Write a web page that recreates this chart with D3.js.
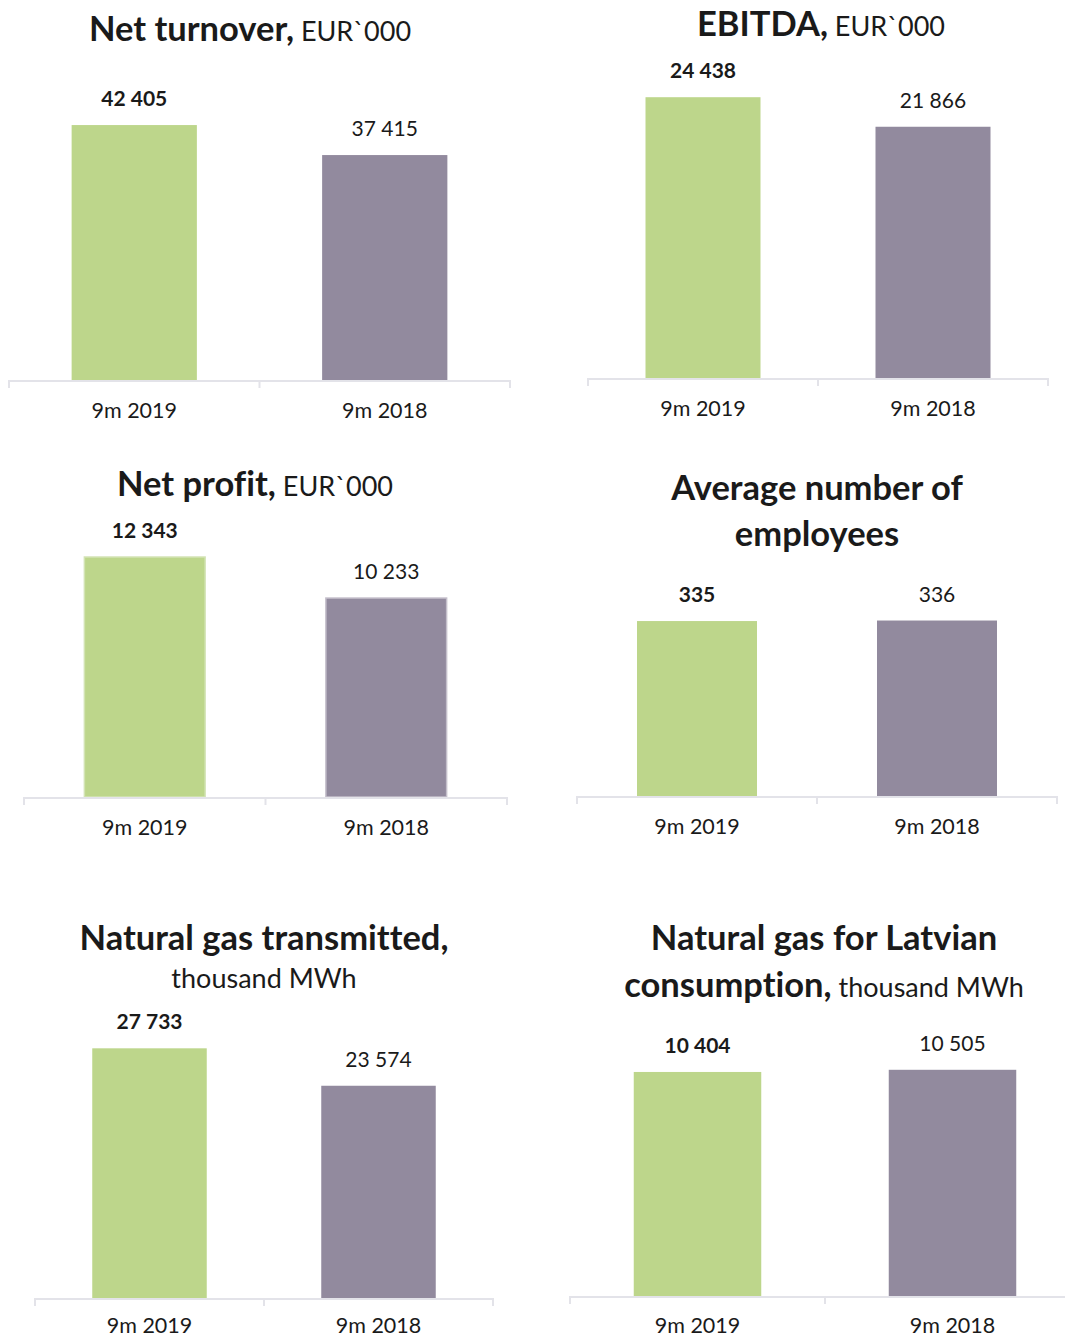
<!DOCTYPE html>
<html>
<head>
<meta charset="utf-8">
<script src="https://cdn.jsdelivr.net/npm/d3@7"></script>
<style>
  html, body { margin: 0; padding: 0; background: #fff; }
  svg { display: block; }
  text { font-family: Lato, "Open Sans", sans-serif; fill: #1a1a1a; font-variant-ligatures: none; font-feature-settings: "liga" 0; }
</style>
</head>
<body>
<svg id="chart" width="1065" height="1339"></svg>
<script>
// ---- data ----
const categories = ["9m 2019", "9m 2018"];
const netTurnover = [42405, 37415];
const ebitda = [24438, 21866];
const netProfit = [12343, 10233];
const employees = [335, 336];
const gasTransmitted = [27733, 23574];
const gasLatvian = [10404, 10505];
const valueLabels = {
  netTurnover: ["42 405", "37 415"],
  ebitda: ["24 438", "21 866"],
  netProfit: ["12 343", "10 233"],
  employees: ["335", "336"],
  gasTransmitted: ["27 733", "23 574"],
  gasLatvian: ["10 404", "10 505"]
};
// title lines: [bold part, regular part]
const titleNetTurnover = [["Net turnover,", " EUR`000"]];
const titleEbitda = [["EBITDA,", " EUR`000"]];
const titleNetProfit = [["Net profit,", " EUR`000"]];
const titleEmployees = [["Average number of", ""], ["employees", ""]];
const titleGasTransmitted = [["Natural gas transmitted,", ""], ["", "thousand MWh"]];
const titleGasLatvian = [["Natural gas for Latvian", ""], ["consumption,", " thousand MWh"]];

const colors = ["#BDD68B", "#928A9E"];
const strokeColors = ["#D3E3B4", "#C4BFCB"];

// ---- layout (positions only) ----
const panels = [
  { key: "netTurnover", values: netTurnover, title: titleNetTurnover,
    x0: 9, x1: 510, axisY: 380, yMax: 50000, h: 300.6, cx: 250, titleY: [41], catDy: 38 },
  { key: "ebitda", values: ebitda, title: titleEbitda,
    x0: 588, x1: 1048, axisY: 378, yMax: 30000, h: 344.7, cx: 821, titleY: [36], catDy: 38 },
  { key: "netProfit", values: netProfit, title: titleNetProfit, border: true,
    x0: 24, x1: 507, axisY: 797, yMax: 14000, h: 272.2, cx: 255, titleY: [496], catDy: 38 },
  { key: "employees", values: employees, title: titleEmployees,
    x0: 577, x1: 1057, axisY: 796, yMax: 400, h: 208.9, cx: 817, titleY: [500, 546], catDy: 38 },
  { key: "gasTransmitted", values: gasTransmitted, title: titleGasTransmitted,
    x0: 35, x1: 493, axisY: 1298, yMax: 30000, h: 270.1, cx: 264, titleY: [950, 988], catDy: 35 },
  { key: "gasLatvian", values: gasLatvian, title: titleGasLatvian,
    x0: 570, x1: 1080, axisY: 1296, yMax: 12000, h: 258.4, cx: 824, titleY: [950, 997], catDy: 37 }
];

const svg = d3.select("#chart");

panels.forEach(p => {
  const g = svg.append("g");
  const x = d3.scaleBand().domain(categories).range([p.x0, p.x1])
    .paddingInner(0.5).paddingOuter(0.25);
  const y = d3.scaleLinear().domain([0, p.yMax]).range([p.axisY, p.axisY - p.h]);

  // bars
  g.selectAll("rect.bar").data(p.values).join("rect")
    .attr("class", "bar")
    .attr("x", (d, i) => x(categories[i]))
    .attr("width", x.bandwidth())
    .attr("y", d => y(d))
    .attr("height", d => y(0) - y(d))
    .attr("fill", (d, i) => colors[i])
    .attr("stroke", (d, i) => p.border ? strokeColors[i] : "none")
    .attr("stroke-width", p.border ? 1.5 : 0);

  // axis line + tick marks between categories
  const step = x.step();
  const ticks = d3.range(categories.length + 1).map(i => p.x0 + i * step);
  g.append("line")
    .attr("x1", p.x0).attr("x2", p.x1)
    .attr("y1", p.axisY + 1).attr("y2", p.axisY + 1)
    .attr("stroke", "#E3E3E9").attr("stroke-width", 2);
  g.selectAll("line.tick").data(ticks).join("line")
    .attr("class", "tick")
    .attr("x1", d => d).attr("x2", d => d)
    .attr("y1", p.axisY).attr("y2", p.axisY + 8)
    .attr("stroke", "#E3E3E9").attr("stroke-width", 2);

  // category labels
  g.selectAll("text.cat").data(categories).join("text")
    .attr("class", "cat")
    .attr("x", d => x(d) + x.bandwidth() / 2)
    .attr("y", p.axisY + p.catDy)
    .attr("text-anchor", "middle")
    .attr("font-size", 21.5)
    .text(d => d);

  // value labels
  g.selectAll("text.val").data(p.values).join("text")
    .attr("class", "val")
    .attr("x", (d, i) => x(categories[i]) + x.bandwidth() / 2)
    .attr("y", d => y(d) - 19)
    .attr("text-anchor", "middle")
    .attr("font-size", 21)
    .attr("font-weight", (d, i) => i === 0 ? 700 : 400)
    .text((d, i) => valueLabels[p.key][i]);

  // title
  p.title.forEach((line, li) => {
    const t = g.append("text")
      .attr("x", p.cx).attr("y", p.titleY[li])
      .attr("text-anchor", "middle");
    if (line[0]) t.append("tspan").attr("font-weight", 700).attr("font-size", 34.5).text(line[0]);
    if (line[1]) t.append("tspan").attr("font-weight", 400).attr("font-size", 27).text(line[1]);
  });
});
</script>
</body>
</html>
